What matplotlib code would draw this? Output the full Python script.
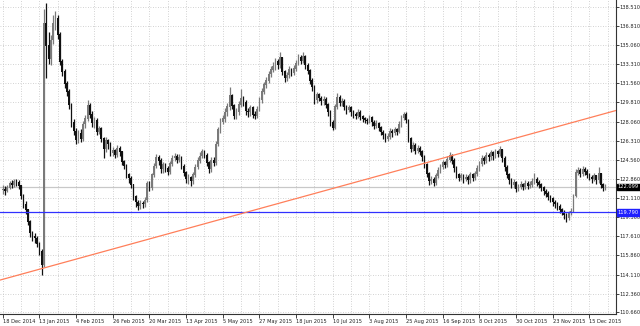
import numpy as np
import matplotlib
matplotlib.use('Agg')
import matplotlib.pyplot as plt
import matplotlib.transforms as mtransforms

# Daily candles, 18 Dec 2014 .. Dec 2015
first_open = 121.8
closes = [
    121.9, 121.7, 122.0, 122.4, 122.3, 122.6, 122.5, 122.2, 121.3, 120.5,
    120.0, 118.9, 117.9, 117.6, 117.4, 116.9, 116.2, 115.0, 137.0, 135.0,
    133.8, 135.5, 137.0, 137.5, 136.0, 133.5, 132.6, 131.5, 130.8, 129.6,
    128.0, 127.2, 126.4, 127.0, 126.5, 127.8, 128.3, 129.5, 128.7, 127.9,
    128.2, 127.1, 127.4, 126.5, 125.6, 126.3, 126.0, 125.2, 125.4, 125.0,
    125.6, 125.3, 124.4, 124.0, 123.2, 122.9, 122.3, 121.2, 120.7, 120.4,
    120.6, 120.5, 120.9, 122.4, 122.0, 123.2, 124.0, 124.8, 124.5, 123.7,
    124.1, 123.8, 123.5, 124.2, 124.7, 124.9, 124.6, 124.8, 124.0, 123.4,
    122.8, 123.0, 122.6, 123.2, 123.9, 124.5, 124.9, 125.3, 125.0, 124.3,
    123.7, 124.5, 124.3, 126.0, 127.3, 128.0, 128.3, 128.9, 129.4, 130.4,
    129.5, 128.6, 128.9, 129.6, 130.2, 129.8, 129.0, 128.9, 129.3, 128.7,
    128.6, 129.2, 130.0, 130.8, 131.4, 131.8, 132.4, 132.8, 133.1, 133.5,
    133.2, 133.9, 132.6, 132.0, 132.3, 132.8, 132.5, 132.9, 133.4, 133.9,
    133.6, 134.0, 133.2, 132.7, 131.8, 131.2, 130.0, 130.5, 130.2, 129.9,
    130.1, 129.6, 128.9, 128.0, 127.5, 129.4, 130.3, 129.8, 129.9, 129.4,
    129.1, 129.3, 128.9, 128.7, 128.6, 128.9, 128.5, 128.3, 128.2, 128.1,
    128.4, 128.0, 127.7, 127.9, 127.5, 127.1, 126.8, 126.5, 126.7, 127.2,
    127.0, 127.3, 127.1, 127.8, 128.4, 128.7, 128.2, 126.5, 125.6, 125.9,
    125.4, 125.6, 125.3, 124.8, 124.1, 123.3, 122.6, 122.8, 122.5, 123.1,
    123.6, 123.9, 124.3, 124.1, 124.6, 125.0, 124.5, 123.8, 123.2, 122.9,
    123.1, 122.8, 123.0, 122.7, 123.2, 122.9, 123.3, 123.8, 124.2, 124.7,
    124.5, 125.0, 124.8, 125.2, 124.9, 125.3, 125.1, 125.5, 124.7, 123.9,
    123.2, 122.7, 122.3, 122.5, 121.9, 122.1, 122.3, 122.1, 122.4, 122.2,
    122.3, 122.6, 122.8, 122.5, 122.3, 122.0, 121.7, 121.5, 121.2, 121.0,
    120.7, 120.5, 120.3, 120.0, 119.8, 119.5, 119.3, 119.7, 119.9, 121.3,
    123.4, 123.6, 123.3, 123.7, 123.5, 123.2, 123.0, 122.8, 123.1, 122.7,
    123.3, 122.3, 122.0, 122.099,
]
highs = [
    122.3, 122.2, 122.3, 122.6, 122.7, 122.8, 122.8, 122.7, 122.3, 121.5,
    120.8, 120.1, 119.1, 118.1, 117.9, 117.6, 117.1, 116.4, 138.3, 138.9,
    136.2, 136.0, 137.8, 138.2, 137.8, 136.2, 133.8, 132.9, 131.8, 131.0,
    129.8, 128.3, 127.5, 127.3, 127.4, 128.1, 128.7, 130.0, 129.8, 129.0,
    128.5, 128.4, 127.7, 127.6, 126.7, 126.7, 126.5, 126.2, 125.7, 125.6,
    125.9, 125.8, 125.4, 124.6, 124.2, 123.4, 123.1, 122.4, 121.4, 120.9,
    120.9, 120.8, 121.2, 122.6, 122.6, 123.4, 124.3, 125.1, 125.0, 124.7,
    124.4, 124.3, 124.0, 124.5, 125.0, 125.2, 125.1, 125.1, 124.9, 124.2,
    123.6, 123.3, 123.1, 123.5, 124.2, 124.8, 125.3, 125.6, 125.5, 125.2,
    124.5, 124.8, 124.8, 126.3, 127.6, 128.4, 128.7, 129.3, 129.8, 131.2,
    130.6, 129.7, 129.3, 129.9, 131.0, 130.4, 130.0, 129.3, 129.6, 129.5,
    129.0, 129.5, 130.3, 131.1, 131.7, 132.1, 132.7, 133.1, 133.5, 133.9,
    133.8, 134.4, 134.0, 132.8, 132.6, 133.1, 133.0, 133.2, 133.7, 134.2,
    134.1, 134.4, 134.1, 133.4, 132.9, 132.0, 131.4, 130.8, 130.7, 130.4,
    130.4, 130.3, 129.8, 129.1, 128.2, 129.7, 130.7, 130.5, 130.2, 130.1,
    129.6, 129.6, 129.5, 129.1, 128.9, 129.2, 129.1, 128.7, 128.5, 128.4,
    128.7, 128.6, 128.2, 128.2, 128.0, 127.7, 127.3, 127.0, 127.0, 127.5,
    127.4, 127.6, 127.5, 128.1, 128.7, 128.9, 128.9, 128.3, 126.7, 126.2,
    126.1, 125.9, 125.8, 125.5, 125.0, 124.3, 123.5, 123.1, 123.0, 123.4,
    123.9, 124.2, 124.6, 124.5, 124.9, 125.3, 125.1, 124.7, 124.0, 123.4,
    123.4, 123.3, 123.3, 123.2, 123.5, 123.4, 123.6, 124.1, 124.5, 125.0,
    124.9, 125.3, 125.2, 125.5, 125.4, 125.6, 125.5, 125.8, 125.6, 124.9,
    124.1, 123.4, 122.9, 122.8, 122.6, 122.4, 122.6, 122.5, 122.7, 122.6,
    122.6, 122.9, 123.4, 123.0, 122.7, 122.5, 122.2, 121.9, 121.7, 121.4,
    121.2, 120.9, 120.7, 120.5, 120.2, 120.0, 119.7, 119.9, 120.2, 121.5,
    123.7, 123.9, 123.8, 124.0, 123.9, 123.7, 123.4, 123.2, 123.4, 123.2,
    123.9, 123.4, 122.5, 122.4,
]
lows = [
    121.5, 121.4, 121.6, 121.9, 122.0, 122.1, 122.2, 121.9, 121.0, 120.2,
    119.6, 118.6, 117.5, 117.2, 117.0, 116.6, 115.9, 114.1, 114.8, 132.0,
    133.3, 133.2, 135.1, 136.4, 135.6, 133.2, 132.2, 131.1, 130.4, 129.2,
    127.6, 126.8, 126.0, 126.1, 126.2, 126.3, 127.5, 128.1, 128.4, 127.6,
    127.5, 126.8, 126.9, 126.2, 124.7, 125.3, 125.6, 124.9, 124.9, 124.7,
    124.8, 124.9, 124.1, 123.7, 122.9, 122.5, 122.0, 120.9, 120.3, 120.0,
    120.1, 120.2, 120.3, 120.7, 121.7, 121.8, 123.0, 123.8, 124.1, 123.4,
    123.4, 123.5, 123.2, 123.3, 124.0, 124.5, 124.3, 124.4, 123.7, 123.1,
    122.5, 122.4, 122.2, 122.4, 123.0, 123.7, 124.3, 124.7, 124.7, 124.0,
    123.4, 123.5, 124.0, 124.1, 125.8, 127.0, 127.8, 128.0, 128.6, 129.1,
    129.2, 128.3, 128.3, 128.7, 129.4, 129.5, 128.7, 128.5, 128.6, 128.4,
    128.3, 128.4, 129.0, 129.8, 130.6, 131.1, 131.6, 132.1, 132.6, 132.8,
    132.9, 133.0, 132.3, 131.7, 131.8, 132.0, 132.2, 132.3, 132.7, 133.2,
    133.3, 133.4, 132.9, 132.4, 131.5, 130.9, 129.7, 129.8, 129.9, 129.6,
    129.6, 129.3, 128.6, 127.7, 127.3, 127.4, 129.2, 129.5, 129.5, 129.1,
    128.8, 128.9, 128.6, 128.4, 128.3, 128.4, 128.2, 128.0, 127.9, 127.8,
    127.9, 127.7, 127.4, 127.5, 127.2, 126.8, 126.5, 126.2, 126.3, 126.5,
    126.7, 126.8, 126.8, 127.0, 127.6, 128.2, 127.9, 126.2, 125.3, 125.4,
    125.1, 125.2, 125.0, 124.5, 123.8, 123.0, 122.3, 122.4, 122.2, 122.3,
    122.9, 123.4, 123.7, 123.8, 123.9, 124.4, 124.2, 123.5, 122.9, 122.6,
    122.7, 122.5, 122.6, 122.4, 122.5, 122.6, 122.7, 123.1, 123.6, 124.0,
    124.2, 124.3, 124.5, 124.6, 124.6, 124.7, 124.8, 124.9, 124.4, 123.6,
    122.9, 122.4, 122.0, 122.0, 121.6, 121.7, 121.9, 121.8, 121.9, 121.9,
    122.0, 122.1, 122.4, 122.2, 122.0, 121.7, 121.4, 121.2, 120.9, 120.7,
    120.4, 120.2, 120.0, 119.7, 119.5, 119.2, 118.9, 119.1, 119.5, 119.8,
    121.2, 123.2, 123.0, 123.1, 123.2, 122.9, 122.7, 122.5, 122.6, 122.4,
    122.5, 122.0, 121.7, 121.8,
]
opens = [first_open] + closes[:-1]

price_ticks = [138.510, 136.810, 135.060, 133.310, 131.560, 129.810, 128.060,
               126.310, 124.560, 122.860, 121.110, 119.360, 117.610, 115.860,
               114.110, 112.360, 110.660]
date_labels = ['18 Dec 2014', '13 Jan 2015', '4 Feb 2015', '26 Feb 2015',
               '20 Mar 2015', '13 Apr 2015', '5 May 2015', '27 May 2015',
               '18 Jun 2015', '10 Jul 2015', '3 Aug 2015', '25 Aug 2015',
               '16 Sep 2015', '8 Oct 2015', '30 Oct 2015', '23 Nov 2015',
               '15 Dec 2015']
bid_price = 122.099
level_price = 119.790
trend_idx = [-1.2, 268.0]
trend_price = [113.6, 129.1]

plt.rcParams['font.family'] = ['DejaVu Sans']
plt.rcParams['font.stretch'] = 'condensed'
fs = 4.1

fig = plt.figure(figsize=(6.4, 3.26), dpi=100)
ax = fig.add_axes([0.0, 0.0383, 0.9625, 0.9617])

idx = np.arange(len(closes))
o = np.array(opens)
c = np.array(closes)
h = np.array(highs)
l = np.array(lows)
bull = c >= o
cols = np.where(bull, '#7a7a7a', '#111111')

# grid
for p in price_ticks:
    ax.axhline(p, color='#c4c4c4', lw=0.6, ls=(0, (1, 2)), zorder=0)
for g in range(0, 270, 8):
    ax.axvline(g, color='#c4c4c4', lw=0.6, ls=(0, (1, 2)), zorder=0)

ax.axhline(bid_price, color='#c8c8c8', lw=0.9, zorder=1)
ax.axhline(level_price, color='#3030ff', lw=0.9, zorder=4)
ax.plot(trend_idx, trend_price, color='#ff7f5a', lw=0.9, zorder=4)

ax.vlines(idx, l, h, colors=cols, lw=0.9, zorder=2)
ax.bar(idx, np.abs(c - o) + 0.05, bottom=np.minimum(o, c), width=0.72,
       color=cols, linewidth=0, zorder=3)

ax.set_xlim(-1.18, 267.6)
ax.set_ylim(110.55, 139.16)

ax.yaxis.tick_right()
ax.set_yticks(price_ticks)
ax.set_yticklabels(['%.3f' % p for p in price_ticks])
ax.set_xticks(range(0, 16 * len(date_labels), 16))
ax.set_xticklabels(date_labels, ha='left')
ax.tick_params(axis='y', length=2, width=0.6, pad=0.8, labelsize=fs, colors='#222222')
ax.tick_params(axis='x', length=3, width=0.6, pad=0.8, labelsize=fs, colors='#222222')

for s in ['left', 'top']:
    ax.spines[s].set_visible(False)
for s in ['right', 'bottom']:
    ax.spines[s].set_linewidth(0.8)
    ax.spines[s].set_color('#333333')

trans = mtransforms.blended_transform_factory(ax.transAxes, ax.transData)
ax.text(1.003, bid_price, '%.3f' % bid_price, transform=trans, ha='left', va='center',
        fontsize=fs, color='white', zorder=6, clip_on=False,
        bbox=dict(boxstyle='square,pad=0.15', fc='black', ec='black'))
ax.text(1.003, level_price, '%.3f' % level_price, transform=trans, ha='left', va='center',
        fontsize=fs, color='white', zorder=6, clip_on=False,
        bbox=dict(boxstyle='square,pad=0.15', fc='#2020ff', ec='#2020ff'))

fig.savefig('out.png', dpi=100, facecolor='white')
